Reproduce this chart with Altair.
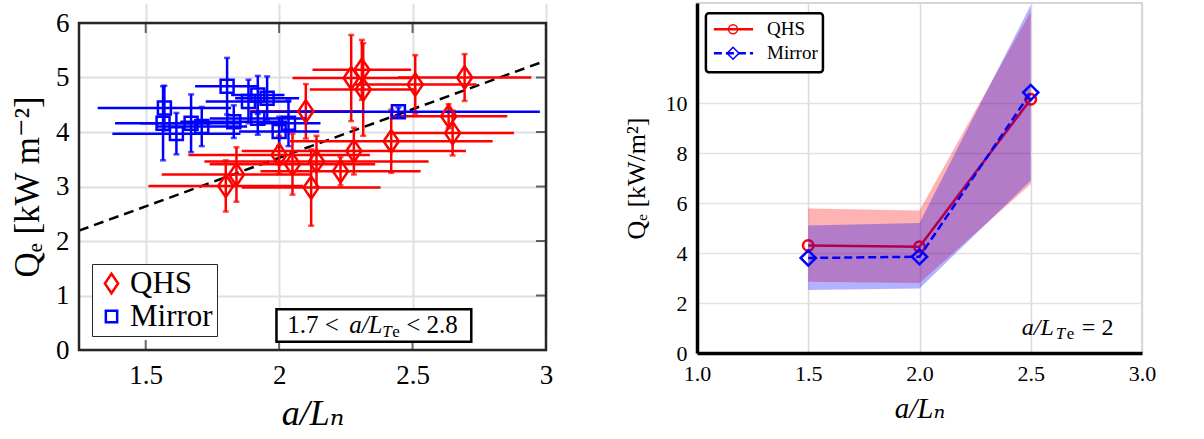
import altair as alt
import pandas as pd

SERIF = "Liberation Serif, DejaVu Serif, serif"
RED = "#ff0000"
BLUE = "#0000ff"
FRAME = "#262626"

# ---------------- left panel: measured Q_e vs a/L_n ----------------
qhs_x = [1.80, 1.84, 2.00, 2.05, 2.12, 2.14, 2.23, 2.28, 2.10, 2.27, 2.31, 2.315, 2.42, 2.51, 2.695, 2.635, 2.65]
qhs_y = [3.01, 3.22, 3.58, 3.41, 2.98, 3.46, 3.28, 3.65, 4.38, 4.99, 5.14, 4.78, 3.83, 4.87, 5.00, 4.29, 3.98]
qhs_xerr = [0.29, 0.28, 0.34, 0.31, 0.26, 0.42, 0.30, 0.42, 0.21, 0.22, 0.185, 0.20, 0.38, 0.23, 0.25, 0.22, 0.23]
qhs_yerr = [0.47, 0.50, 0.35, 0.56, 0.70, 0.47, 0.26, 0.43, 0.50, 0.79, 0.55, 0.85, 0.58, 0.54, 0.43, 0.22, 0.41]

mir_x = [1.57, 1.565, 1.615, 1.67, 1.71, 1.805, 1.83, 1.885, 1.92, 1.955, 1.92, 2.00, 2.035, 2.447]
mir_y = [4.44, 4.16, 3.97, 4.16, 4.10, 4.84, 4.19, 4.56, 4.68, 4.62, 4.25, 4.01, 4.16, 4.37]
mir_xerr = [0.25, 0.18, 0.24, 0.19, 0.17, 0.12, 0.20, 0.16, 0.10, 0.12, 0.18, 0.15, 0.12, 0.53]
mir_yerr = [0.41, 0.68, 0.38, 0.53, 0.36, 0.52, 0.30, 0.40, 0.35, 0.40, 0.30, 0.27, 0.42, 0.08]

# dashed trend line (end points)
fit_x = [1.25, 3.0]
fit_y = [2.19, 5.31]

left_x_ticks = [1.5, 2, 2.5, 3]
left_y_ticks = [0, 1, 2, 3, 4, 5, 6]

# ---------------- right panel: model scan at a/L_Te = 2 ----------------
ln_grid = [1.5, 2.0, 2.5]
qhs_mean = [4.30, 4.25, 10.15]
qhs_lo = [2.85, 2.80, 6.75]
qhs_hi = [5.78, 5.70, 13.65]
mir_mean = [3.80, 3.85, 10.42]
mir_lo = [2.52, 2.58, 6.90]
mir_hi = [5.10, 5.20, 13.92]

right_x_ticks = [1.0, 1.5, 2.0, 2.5, 3.0]
right_y_ticks = [0, 2, 4, 6, 8, 10]

LW, LH, LTOP = 467, 327, 20   # left plot box sits LTOP px below the panel top
RW, RH = 445, 350


def err_frame(xs, ys, xe, ye, name):
    df = pd.DataFrame({"x": xs, "y": ys, "xe": xe, "ye": ye})
    df["x_lo"] = df.x - df.xe
    df["x_hi"] = df.x + df.xe
    df["y_lo"] = df.y - df.ye
    df["y_hi"] = df.y + df.ye
    df["series"] = name
    return df


qhs_df = err_frame(qhs_x, qhs_y, qhs_xerr, qhs_yerr, "QHS")
mir_df = err_frame(mir_x, mir_y, mir_xerr, mir_yerr, "Mirror")
pts_df = pd.concat([qhs_df, mir_df], ignore_index=True)

lx = alt.Scale(domain=[1.25, 3.0], nice=False, zero=False)
ly = alt.Scale(domain=[0, 6], nice=False, zero=False, range=[LH + LTOP, LTOP])

x_axis_left = alt.Axis(values=left_x_ticks, format="~g", grid=True, gridColor="#e0e0e0", gridWidth=2,
                       ticks=False, domain=False, labelFont=SERIF, labelFontSize=27, labelColor="black",
                       labelPadding=12, labelFlush=False, title="a/Lₙ", titleFont=SERIF, titleFontSize=36,
                       titleFontStyle="italic", titleFontWeight="normal", titleColor="black", titlePadding=8)
y_axis_left = alt.Axis(values=left_y_ticks, format="d", grid=True, gridColor="#e0e0e0", gridWidth=2,
                       ticks=False, domain=False, labelFont=SERIF, labelFontSize=27, labelColor="black",
                       labelPadding=10, labelFlush=False, title="Qₑ  [kW m⁻²]", titleFont=SERIF,
                       titleFontSize=35, titleFontWeight="normal", titleColor="black", titlePadding=10)

fit_df = pd.DataFrame({"x": fit_x, "y": fit_y})
base_fit = alt.Chart(fit_df).mark_line(color="black", strokeWidth=2.5, strokeDash=[10, 6]).encode(
    x=alt.X("x:Q", scale=lx, axis=x_axis_left),
    y=alt.Y("y:Q", scale=ly, axis=y_axis_left),
)


def bars(df, color):
    h = alt.Chart(df).mark_rule(color=color, strokeWidth=2.5).encode(
        x=alt.X("x_lo:Q", scale=lx), x2="x_hi:Q", y=alt.Y("y:Q", scale=ly))
    v = alt.Chart(df).mark_rule(color=color, strokeWidth=2.5).encode(
        x=alt.X("x:Q", scale=lx), y=alt.Y("y_lo:Q", scale=ly), y2="y_hi:Q")
    cap_lo = alt.Chart(df).mark_tick(color=color, orient="horizontal", size=6, thickness=2.5).encode(
        x=alt.X("x:Q", scale=lx), y=alt.Y("y_lo:Q", scale=ly))
    cap_hi = alt.Chart(df).mark_tick(color=color, orient="horizontal", size=6, thickness=2.5).encode(
        x=alt.X("x:Q", scale=lx), y=alt.Y("y_hi:Q", scale=ly))
    return [h, v, cap_lo, cap_hi]


DIAMOND_TALL = "M0,-1L0.68,0L0,1L-0.68,0Z"
SQUARE = "M-0.58,-0.58H0.58V0.58H-0.58Z"

legend_left = alt.Legend(title=None, orient="none", legendX=13, legendY=LTOP + 241,
                         labelFont=SERIF, labelFontSize=31, labelColor="black",
                         symbolSize=380, symbolStrokeWidth=2.5, labelOffset=3,
                         rowPadding=1, padding=4, strokeColor=FRAME, fillColor="white",
                         labelLimit=200)

markers = alt.Chart(pts_df).mark_point(filled=False, strokeWidth=2.5, size=500, opacity=1).encode(
    x=alt.X("x:Q", scale=lx),
    y=alt.Y("y:Q", scale=ly),
    color=alt.Color("series:N", scale=alt.Scale(domain=["QHS", "Mirror"], range=[RED, BLUE]),
                    legend=legend_left),
    shape=alt.Shape("series:N", scale=alt.Scale(domain=["QHS", "Mirror"], range=[DIAMOND_TALL, SQUARE]),
                    legend=legend_left),
)

# inward ticks on the bottom, top and right edges
tx_df = pd.DataFrame({"x": left_x_ticks[:-1]})
ty_df = pd.DataFrame({"y": left_y_ticks[1:-1]})
tick_bottom = alt.Chart(tx_df).mark_tick(color=FRAME, orient="vertical", size=10, thickness=2, yOffset=-5).encode(
    x=alt.X("x:Q", scale=lx), y=alt.value(LH + LTOP))
tick_top = alt.Chart(tx_df).mark_tick(color=FRAME, orient="vertical", size=10, thickness=2, yOffset=5).encode(
    x=alt.X("x:Q", scale=lx), y=alt.value(LTOP))
tick_right = alt.Chart(ty_df).mark_tick(color=FRAME, orient="horizontal", size=10, thickness=2, xOffset=-5).encode(
    y=alt.Y("y:Q", scale=ly), x=alt.value(LW))

# plot frame
frame_df = pd.DataFrame({"x": [1.25], "x2": [3.0], "y": [0], "y2": [6]})
frame = alt.Chart(frame_df).mark_rect(fillOpacity=0, stroke=FRAME, strokeWidth=2.5).encode(
    x=alt.X("x:Q", scale=lx), x2="x2:Q", y=alt.Y("y:Q", scale=ly), y2="y2:Q")

# annotation box: 1.7 < a/L_Te < 2.8
box_df = pd.DataFrame({"x": [1.99], "x2": [2.72], "y": [0.15], "y2": [0.75]})
box = alt.Chart(box_df).mark_rect(fill="white", stroke="black", strokeWidth=2.5).encode(
    x=alt.X("x:Q", scale=lx), x2="x2:Q", y=alt.Y("y:Q", scale=ly), y2="y2:Q")
anchor = pd.DataFrame({"x": [2.03], "y": [0.45]})


def piece(df, text, dx, dy=0, size=25, italic=False, xs=lx, ys=ly):
    return alt.Chart(df).mark_text(text=text, align="left", baseline="middle", dx=dx, dy=dy,
                                   font=SERIF, fontSize=size, color="black",
                                   fontStyle="italic" if italic else "normal").encode(
        x=alt.X("x:Q", scale=xs), y=alt.Y("y:Q", scale=ys))


ann_left = [
    piece(anchor, "1.7 <", 0),
    piece(anchor, "a/L", 62, italic=True),
    piece(anchor, "T", 95, dy=7, size=17, italic=True),
    piece(anchor, "e", 105, dy=7, size=17),
    piece(anchor, "< 2.8", 119),
]

left = alt.layer(
    base_fit, *bars(qhs_df, RED), *bars(mir_df, BLUE), markers,
    tick_bottom, tick_top, tick_right, frame, box, *ann_left,
).properties(width=LW, height=LH + LTOP, view=alt.ViewBackground(strokeWidth=0))

# ---------------- right panel ----------------
rx = alt.Scale(domain=[1.0, 3.0], nice=False, zero=False)
ry = alt.Scale(domain=[0, 14], nice=False, zero=False)

x_axis_right = alt.Axis(values=right_x_ticks, format=".1f", grid=True, gridColor="#ddd6e4", gridWidth=1.5,
                        ticks=False, domain=True, domainColor="black", domainWidth=3.5,
                        labelFont=SERIF, labelFontSize=22, labelColor="black", labelPadding=10,
                        labelFlush=False, title="a/Lₙ", titleFont=SERIF, titleFontSize=29,
                        titleFontStyle="italic", titleFontWeight="normal", titleColor="black", titlePadding=10)
y_axis_right = alt.Axis(values=right_y_ticks, format="d", grid=True, gridColor="#e2e2e2", gridWidth=1.5,
                        ticks=False, domain=True, domainColor="black", domainWidth=3.5,
                        labelFont=SERIF, labelFontSize=22, labelColor="black", labelPadding=10,
                        labelFlush=False, title="Qₑ [kW/m²]", titleFont=SERIF, titleFontSize=26,
                        titleFontWeight="normal", titleColor="black", titlePadding=16)

scan = pd.DataFrame({"x": ln_grid, "q_m": qhs_mean, "q_lo": qhs_lo, "q_hi": qhs_hi,
                     "m_m": mir_mean, "m_lo": mir_lo, "m_hi": mir_hi})

band_q = alt.Chart(scan).mark_area(color=RED, opacity=0.3).encode(
    x=alt.X("x:Q", scale=rx, axis=x_axis_right), y=alt.Y("q_lo:Q", scale=ry, axis=y_axis_right), y2="q_hi:Q")
line_q = alt.Chart(scan).mark_line(color=RED, strokeWidth=2.5).encode(
    x=alt.X("x:Q", scale=rx), y=alt.Y("q_m:Q", scale=ry))
pts_q = alt.Chart(scan).mark_point(shape="circle", filled=False, color=RED, size=110, strokeWidth=2.5,
                                   opacity=1).encode(x=alt.X("x:Q", scale=rx), y=alt.Y("q_m:Q", scale=ry))
band_m = alt.Chart(scan).mark_area(color=BLUE, opacity=0.3).encode(
    x=alt.X("x:Q", scale=rx), y=alt.Y("m_lo:Q", scale=ry), y2="m_hi:Q")
line_m = alt.Chart(scan).mark_line(color=BLUE, strokeWidth=2.5, strokeDash=[8, 4]).encode(
    x=alt.X("x:Q", scale=rx), y=alt.Y("m_m:Q", scale=ry))
pts_m = alt.Chart(scan).mark_point(shape="diamond", filled=False, color=BLUE, size=230, strokeWidth=2.5,
                                   opacity=1).encode(x=alt.X("x:Q", scale=rx), y=alt.Y("m_m:Q", scale=ry))

# legend box for the scan
leg_box = alt.Chart(pd.DataFrame({"x": [1.04], "x2": [1.566], "y": [11.23], "y2": [13.59]})).mark_rect(
    fill="white", stroke="black", strokeWidth=2.5, cornerRadius=3).encode(
    x=alt.X("x:Q", scale=rx), x2="x2:Q", y=alt.Y("y:Q", scale=ry), y2="y2:Q")
leg_rows = pd.DataFrame({"label": ["QHS", "Mirror"], "y": [12.95, 11.99],
                         "x0": [1.076, 1.076], "x1": [1.252, 1.252], "xm": [1.162, 1.162], "xt": [1.315, 1.315]})
leg_q_line = alt.Chart(leg_rows.iloc[[0]]).mark_rule(color=RED, strokeWidth=2.5).encode(
    x=alt.X("x0:Q", scale=rx), x2="x1:Q", y=alt.Y("y:Q", scale=ry))
leg_q_pt = alt.Chart(leg_rows.iloc[[0]]).mark_point(shape="circle", filled=False, color=RED, size=80,
                                                     strokeWidth=1.5, opacity=1).encode(
    x=alt.X("xm:Q", scale=rx), y=alt.Y("y:Q", scale=ry))
leg_m_line = alt.Chart(leg_rows.iloc[[1]]).mark_rule(color=BLUE, strokeWidth=2.5, strokeDash=[8, 4]).encode(
    x=alt.X("x0:Q", scale=rx), x2="x1:Q", y=alt.Y("y:Q", scale=ry))
leg_m_pt = alt.Chart(leg_rows.iloc[[1]]).mark_point(shape="diamond", filled=False, color=BLUE, size=140,
                                                     strokeWidth=1.5, opacity=1).encode(
    x=alt.X("xm:Q", scale=rx), y=alt.Y("y:Q", scale=ry))
leg_text = alt.Chart(leg_rows).mark_text(align="left", baseline="middle", font=SERIF, fontSize=19,
                                         color="black").encode(
    x=alt.X("xt:Q", scale=rx), y=alt.Y("y:Q", scale=ry), text="label:N")

anchor_r = pd.DataFrame({"x": [2.46], "y": [1.0]})
ann_right = [
    piece(anchor_r, "a/L", 0, size=24, italic=True, xs=rx, ys=ry),
    piece(anchor_r, "T", 34, dy=6, size=17, italic=True, xs=rx, ys=ry),
    piece(anchor_r, "e", 45, dy=6, size=17, xs=rx, ys=ry),
    piece(anchor_r, "= 2", 60, size=24, xs=rx, ys=ry),
]

right = alt.layer(
    band_q, line_q, pts_q, band_m, line_m, pts_m,
    leg_box, leg_q_line, leg_q_pt, leg_m_line, leg_m_pt, leg_text, *ann_right,
).properties(width=RW, height=RH, view=alt.ViewBackground(stroke="#c8c8c8", strokeWidth=1.5))

chart = alt.hconcat(left, right, spacing=69).resolve_scale(
    color="independent", shape="independent", x="independent", y="independent"
).properties(padding={"left": 10, "top": 2, "right": 5, "bottom": 5}).configure(
    font=SERIF, background="white"
)

chart.save("out.html", embed_options={"renderer": "svg", "actions": False})
